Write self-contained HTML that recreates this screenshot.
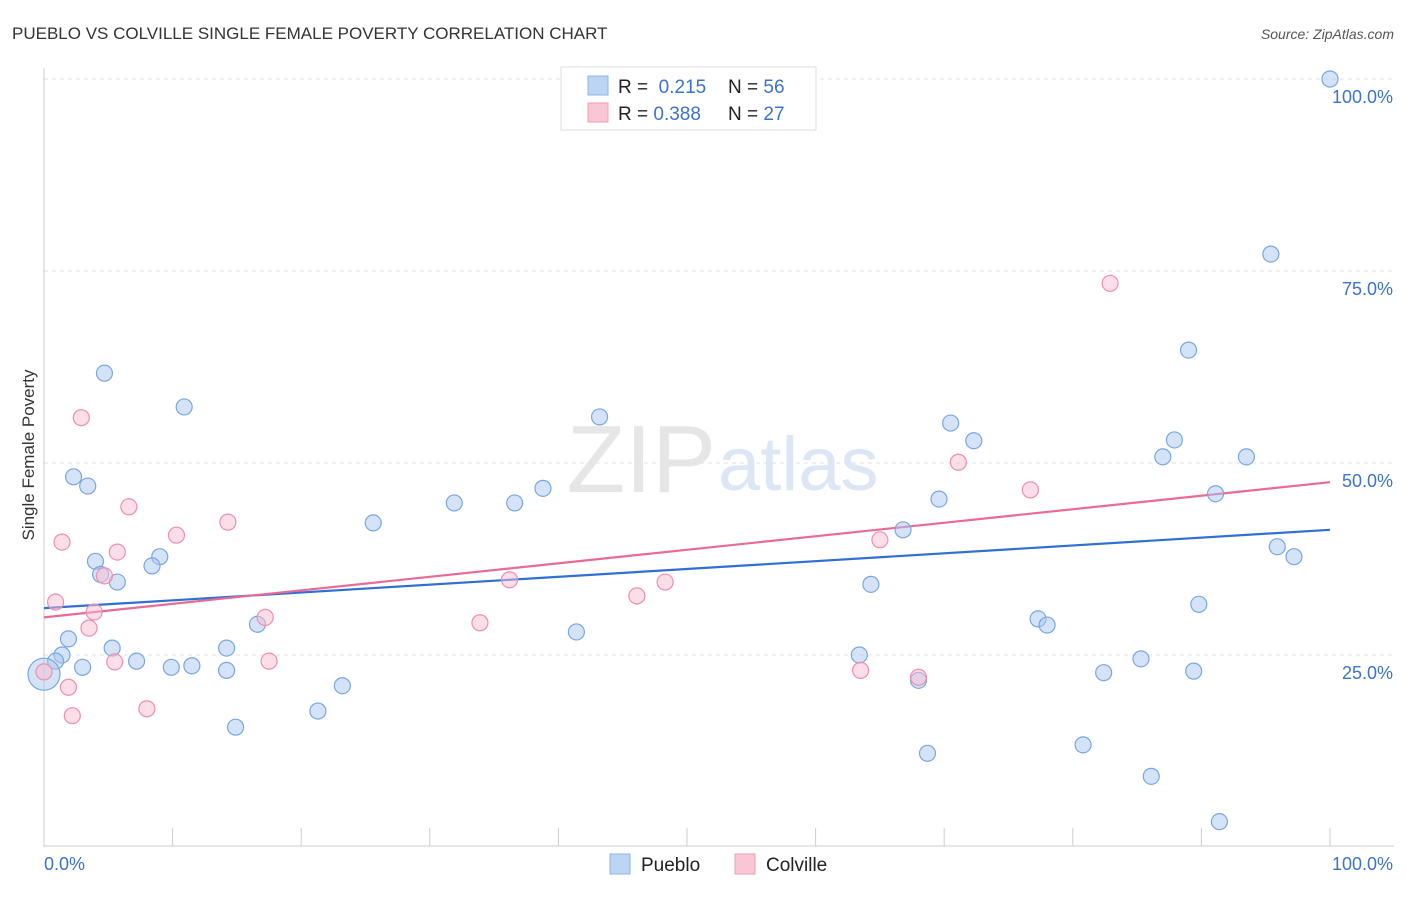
<!DOCTYPE html>
<html><head><meta charset="utf-8"><style>
body{margin:0;background:#fff;font-family:"Liberation Sans",sans-serif;}
svg text{font-family:"Liberation Sans",sans-serif;}
</style></head><body>
<svg id="chart" width="1406" height="892">
<text x="12" y="39" font-size="17" fill="#333">PUEBLO VS COLVILLE SINGLE FEMALE POVERTY CORRELATION CHART</text>
<text x="1394" y="39" font-size="14" fill="#555" font-style="italic" text-anchor="end">Source: ZipAtlas.com</text>
<text x="34" y="455" font-size="17" fill="#333" transform="rotate(-90 34 455)" text-anchor="middle">Single Female Poverty</text>
<text x="716" y="492" font-size="96" fill="#e6e6e6" font-family="Liberation Serif" text-anchor="end">ZIP</text>
<text x="718" y="490" font-size="76" fill="#dde6f5">atlas</text>
<g id="grid"></g><g id="axes"></g><g id="lines"></g><g id="pts"></g>
<g>
<rect x="561" y="67" width="255" height="63" fill="#fff" stroke="#ddd"/>
<rect x="588" y="76" width="20" height="19" fill="#bcd5f5" stroke="#8fb3e8"/>
<rect x="588" y="103" width="20" height="19" fill="#f9c6d4" stroke="#f19ab4"/>
<text x="618" y="93" font-size="19" fill="#222">R = <tspan fill="#3b73cc">&#160;0.215</tspan><tspan x="728">N = </tspan><tspan fill="#3b73cc">56</tspan></text>
<text x="618" y="120" font-size="19" fill="#222">R = <tspan fill="#3b73cc">0.388</tspan><tspan x="728">N = </tspan><tspan fill="#3b73cc">27</tspan></text>
</g>
<g>
<rect x="610" y="854" width="20" height="20" fill="#bcd5f5" stroke="#8fb3e8"/>
<text x="641" y="871" font-size="19" fill="#222">Pueblo</text>
<rect x="735" y="854" width="20" height="20" fill="#f9c6d4" stroke="#f19ab4"/>
<text x="766" y="871" font-size="19" fill="#222">Colville</text>
</g>
</svg>
<script>
const blueX=[100,95.4,89.0,4.7,10.9,43.2,70.5,72.3,87.9,87.0,93.5,2.3,3.4,38.8,31.9,36.6,69.6,91.1,25.6,66.8,95.9,97.2,4.0,9.0,8.4,4.4,5.7,64.3,89.8,16.6,77.3,78.0,41.4,1.9,5.3,14.2,1.4,0.9,63.4,85.3,7.2,3.0,9.9,11.5,14.2,82.4,89.4,0,68.0,23.2,21.3,14.9,80.8,68.7,86.1,91.4];
const blueY=[100,77.2,64.7,61.7,57.3,56.0,55.2,52.9,53.0,50.8,50.8,48.2,47.0,46.7,44.8,44.8,45.3,46.0,42.2,41.3,39.1,37.8,37.2,37.8,36.6,35.5,34.5,34.2,31.6,29.0,29.7,28.9,28.0,27.1,25.9,25.9,25.0,24.2,25.0,24.5,24.2,23.4,23.4,23.6,23.0,22.7,22.9,22.5,21.7,21.0,17.7,15.6,13.3,12.2,9.2,3.3];
const pinkX=[82.9,2.9,71.1,76.7,6.6,14.3,1.4,10.3,65.0,5.7,4.7,36.2,48.3,46.1,0.9,3.9,17.2,33.9,3.5,5.5,17.5,63.5,68.0,1.9,8.0,2.2,0];
const pinkY=[73.4,55.9,50.1,46.5,44.3,42.3,39.7,40.6,40.0,38.4,35.3,34.8,34.5,32.7,31.9,30.6,29.9,29.2,28.5,24.1,24.2,23.0,22.1,20.8,18.0,17.1,22.8];
const blueTrend=[31.1,41.3];
const pinkTrend=[29.9,47.5];
const yTicks=[25,50,75,100];
const xTickVals=[0,10,20,30,40,50,60,70,80,90,100];
const NS="http://www.w3.org/2000/svg";
const X=v=>44+v*12.86, Y=v=>847-v*7.68;
function mk(p,t,a){const e=document.createElementNS(NS,t);for(const k in a)e.setAttribute(k,a[k]);document.getElementById(p).appendChild(e);return e;}
yTicks.forEach(t=>{
 const g=mk('grid','line',{x1:44,x2:1394,y1:Y(t),y2:Y(t),stroke:'#e2e2e2','stroke-dasharray':'4,4'});
 
 
 const l=mk('grid','text',{x:1393,y:Y(t)+24,'font-size':18,fill:'#3b73cc','text-anchor':'end'});
 l.textContent=t.toFixed(1)+'%';
 
 
});
const ya=mk('axes','line',{x1:44,x2:44,y1:68,y2:847,stroke:'#ccc'});


const xa=mk('axes','line',{x1:44,x2:1394,y1:846,y2:846,stroke:'#ccc'});


xTickVals.forEach(t=>{
 const k=mk('axes','line',{x1:X(t),x2:X(t),y1:828,y2:846,stroke:'#ccc'});
 
 
});
[['0.0%',44,'start'],['100.0%',1393,'end']].forEach(([s,x,a])=>{
 const l=mk('axes','text',{x:x,y:870,'font-size':18,fill:'#3b73cc','text-anchor':a});
 l.textContent=s;
 
 
});
function pts(xs,ys,fill,stroke,name){xs.forEach((x,i)=>{
 const c=mk('pts','circle',{cx:X(x),cy:Y(ys[i]),r:(x===0&&name==='pueblo')?16:8,fill:fill,stroke:stroke,'stroke-width':1.2});
 
 
});}
pts(blueX,blueY,'rgba(170,200,240,0.5)','#7aa6e0','pueblo');
pts(pinkX,pinkY,'rgba(248,190,208,0.5)','#ee8fae','colville');
const bl=mk('lines','line',{x1:X(0),y1:Y(blueTrend[0]),x2:X(100),y2:Y(blueTrend[1]),stroke:'#2f6fd6','stroke-width':2.2});


const pl=mk('lines','line',{x1:X(0),y1:Y(pinkTrend[0]),x2:X(100),y2:Y(pinkTrend[1]),stroke:'#e86b96','stroke-width':2.2});


</script>
</body></html>
